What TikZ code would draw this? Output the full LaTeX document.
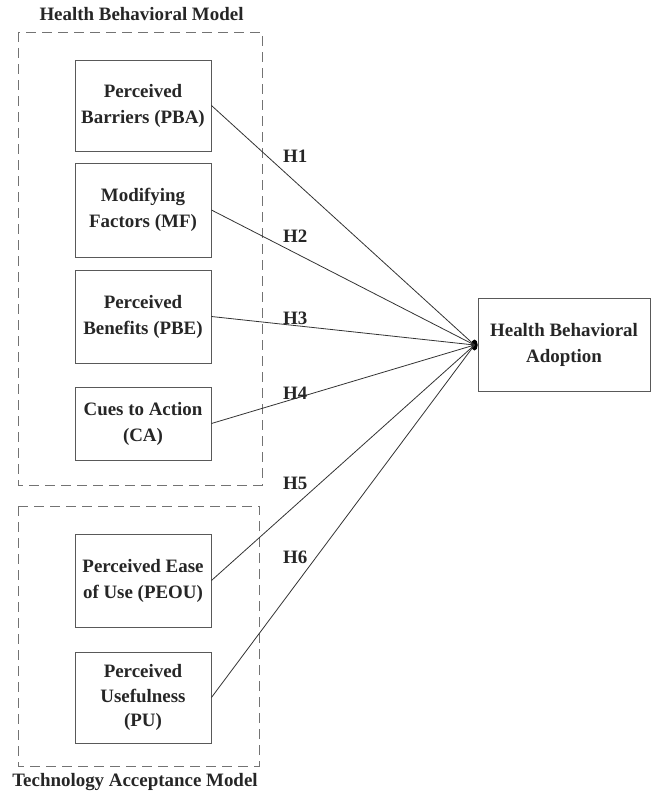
\documentclass[tikz,border=0pt]{standalone}
\usepackage{fontspec}
\setmainfont{Liberation Serif}
\begin{document}
\begin{tikzpicture}[x=1bp,y=-1bp,
  every node/.style={font=\fontsize{19}{26}\selectfont\bfseries, text=black!85},
  cbox/.style={draw=black!65, line width=0.9bp, rectangle, minimum width=136bp, align=center, inner sep=0pt},
  grp/.style={draw=black!55, line width=0.9bp, dash pattern=on 10bp off 6bp},
  link/.style={draw=black!80, line width=0.8bp},
  hlab/.style={anchor=west, inner sep=0pt}]
\useasboundingbox (0,0) rectangle (652,793);
% groups
\draw[grp] (18,32) rectangle (262,485);
\draw[grp] (18,506) rectangle (259,766);
\node[anchor=base] (t1) at (141.5,21) {Health Behavioral Model};
\node[anchor=base] (t2) at (135,786) {Technology Acceptance Model};
% boxes
\node[cbox, minimum height=91bp] (pba) at (143,105.5) {Perceived\\Barriers (PBA)};
\node[cbox, minimum height=94bp] (mf) at (143,210) {Modifying\\Factors (MF)};
\node[cbox, minimum height=93bp] (pbe) at (143,316.5) {Perceived\\Benefits (PBE)};
\node[cbox, minimum height=73bp] (ca) at (143,423.5) {Cues to Action\\(CA)};
\node[cbox, minimum height=93bp] (peou) at (143,580.5) {Perceived Ease\\of Use (PEOU)};
\node[cbox, minimum height=91bp, font=\fontsize{19}{24.5}\selectfont\bfseries] (pu) at (143,697.5) {Perceived\\Usefulness\\(PU)};
\node[cbox, minimum width=172bp, minimum height=93bp] (hba) at (564,344.5) {Health Behavioral\\Adoption};
% hub
\coordinate (hub) at (474.5,345);
\fill[black] (hub) ellipse [x radius=3.2bp, y radius=5.5bp];
% connectors
\draw[link] (pba.east) -- (hub);
\draw[link] (mf.east) -- (hub);
\draw[link] (pbe.east) -- (hub);
\draw[link] (ca.east) -- (hub);
\draw[link] (peou.east) -- (hub);
\draw[link] (pu.east) -- (hub);
% labels
\node[hlab] (h1) at (283,156) {H1};
\node[hlab] (h2) at (283,236) {H2};
\node[hlab] (h3) at (283,318) {H3};
\node[hlab] (h4) at (283,393) {H4};
\node[hlab] (h5) at (283,483) {H5};
\node[hlab] (h6) at (283,557) {H6};
\end{tikzpicture}
\end{document}
